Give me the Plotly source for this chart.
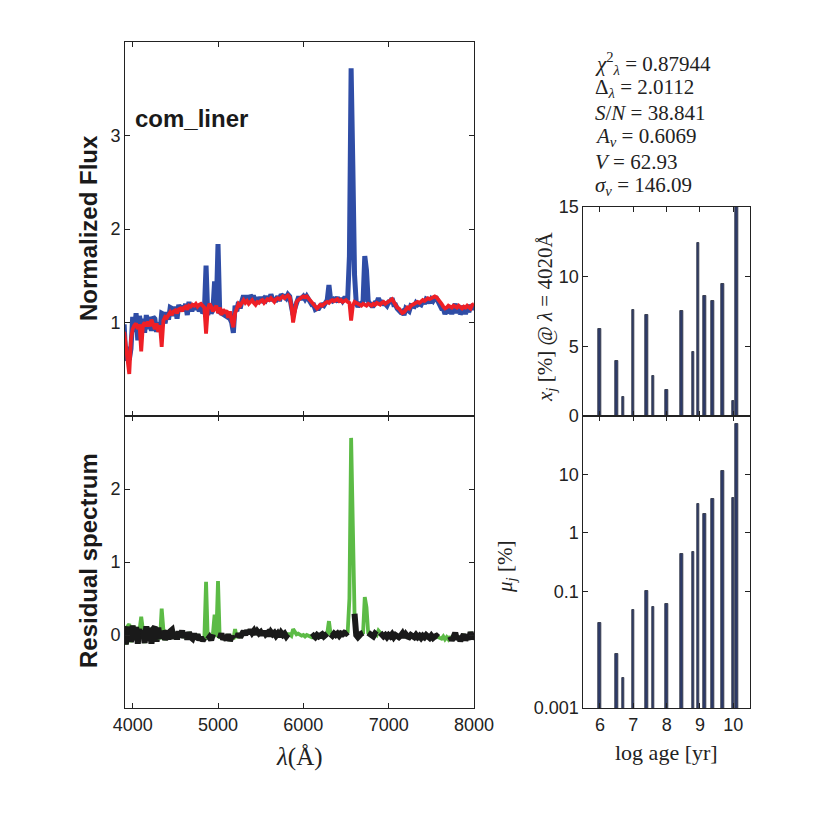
import numpy as np
import plotly.graph_objects as go

# ---------------- DATA ----------------
wave_start, wave_step, wave_end = 3900, 20, 8000
wave = np.arange(wave_start, wave_end + 1, wave_step)  # 3900..8000 Angstrom

# synthetic (model) spectrum, red
model_flux = [
    0.90, 0.72, 0.62, 0.45, 0.82, 0.93, 0.97, 0.99, 0.93, 0.98,   # 3900-4080
    0.69, 0.97, 1.00, 0.96, 1.01, 0.96, 1.03, 0.98, 0.93, 0.99,   # 4100-4280
    0.90, 0.97, 0.74, 1.02, 1.06, 1.05, 1.09, 1.11, 1.08, 1.12,   # 4300-4480
    1.13, 1.10, 1.14, 1.15, 1.12, 1.16, 1.17, 1.14, 1.18, 1.17,   # 4500-4680
    1.19, 1.18, 1.20, 1.17, 1.19, 1.20, 1.18, 1.16, 0.88, 1.14,   # 4700-4880
    1.20, 1.17, 1.12, 1.16, 1.18, 1.10, 1.16, 1.08, 1.14, 1.10,   # 4900-5080
    1.13, 1.05, 1.12, 1.02, 0.95, 1.10, 1.16, 1.20, 1.18, 1.22,   # 5100-5280
    1.24, 1.21, 1.23, 1.20, 1.22, 1.24, 1.21, 1.19, 1.22, 1.21,   # 5300-5480
    1.23, 1.24, 1.21, 1.23, 1.25, 1.24, 1.26, 1.24, 1.22, 1.25,   # 5500-5680
    1.26, 1.25, 1.27, 1.28, 1.26, 1.28, 1.29, 1.27, 1.18, 1.00,   # 5700-5880
    1.10, 1.22, 1.24, 1.26, 1.27, 1.28, 1.27, 1.28, 1.26, 1.24,   # 5900-6080
    1.22, 1.20, 1.17, 1.15, 1.17, 1.19, 1.18, 1.20, 1.21, 1.22,   # 6100-6280
    1.21, 1.23, 1.24, 1.23, 1.24, 1.25, 1.23, 1.24, 1.22, 1.23,   # 6300-6480
    1.24, 1.22, 1.21, 1.02, 1.18, 1.22, 1.21, 1.20, 1.19, 1.18,   # 6500-6680
    1.20, 1.19, 1.18, 1.20, 1.19, 1.18, 1.20, 1.19, 1.21, 1.20,   # 6700-6880
    1.19, 1.21, 1.22, 1.20, 1.21, 1.22, 1.24, 1.25, 1.22, 1.19,   # 6900-7080
    1.16, 1.15, 1.12, 1.10, 1.11, 1.14, 1.16, 1.15, 1.18, 1.19,   # 7100-7280
    1.20, 1.21, 1.22, 1.21, 1.23, 1.24, 1.23, 1.25, 1.26, 1.25,   # 7300-7480
    1.26, 1.27, 1.28, 1.27, 1.25, 1.22, 1.20, 1.17, 1.15, 1.16,   # 7500-7680
    1.18, 1.17, 1.16, 1.18, 1.17, 1.16, 1.18, 1.17, 1.15, 1.17,   # 7700-7880
    1.16, 1.18, 1.17, 1.15, 1.19, 1.20,                           # 7900-8000
]

# residual spectrum (observed - model)
residual = [
    0.08, -0.13, 0.12, 0.15, -0.10, 0.13, -0.07, 0.11, -0.12, 0.09,    # 3900-4080
    0.25, 0.07, -0.11, 0.12, -0.08, 0.10, -0.12, 0.08, 0.11, -0.09,    # 4100-4280
    0.10, -0.06, 0.36, 0.07, -0.07, 0.06, -0.06, 0.05, 0.07, -0.05,    # 4300-4480
    0.04, -0.06, 0.05, -0.03, 0.06, -0.04, 0.03, -0.06, 0.04, -0.03,   # 4500-4680
    -0.05, 0.02, -0.06, 0.01, -0.07, -0.03, -0.08, -0.04, 0.73, -0.06, # 4700-4880
    -0.03, -0.07, 0.01, 0.28, -0.03, 0.74, -0.05, 0.02, -0.06, -0.02,  # 4900-5080
    -0.07, 0.01, -0.08, -0.02, -0.06, 0.08, -0.04, 0.02, -0.03, 0.01,  # 5100-5280
    0.05, 0.00, 0.06, 0.02, 0.07, 0.03, 0.06, 0.01, 0.05, 0.02,        # 5300-5480
    0.04, 0.00, 0.05, 0.01, 0.03, -0.01, 0.04, 0.01, 0.03, -0.01,      # 5500-5680
    0.02, -0.02, 0.03, 0.00, 0.02, -0.02, 0.01, 0.01, -0.01, 0.08,     # 5700-5880
    0.05, 0.01, 0.02, 0.00, -0.01, 0.00, -0.02, 0.00, -0.01, -0.02,    # 5900-6080
    -0.03, -0.01, -0.03, 0.00, -0.02, -0.01, 0.01, -0.02, 0.00, 0.02,  # 6100-6280
    0.19, 0.01, -0.01, 0.02, 0.00, 0.02, -0.01, 0.02, 0.01, 0.03,      # 6300-6480
    0.02, 0.04, 0.50, 2.70, 1.50, 0.29, 0.00, -0.03, 0.01, 0.02,       # 6500-6680
    0.03, 0.52, 0.38, 0.03, 0.01, 0.00, -0.02, 0.02, 0.00, 0.06,       # 6700-6880
    0.03, 0.01, -0.02, 0.00, -0.03, 0.00, -0.02, 0.01, -0.03, 0.00,    # 6900-7080
    -0.01, -0.03, -0.01, 0.02, -0.03, 0.01, -0.02, -0.03, 0.00, -0.02, # 7100-7280
    -0.03, 0.00, -0.03, -0.01, -0.04, -0.01, -0.03, 0.00, -0.02, -0.04,# 7300-7480
    -0.01, -0.04, -0.02, -0.01, -0.03, -0.04, -0.05, -0.02, -0.06, -0.03,  # 7500-7680
    -0.06, -0.02, -0.07, -0.03, 0.03, -0.06, -0.02, -0.08, -0.03, 0.01,    # 7700-7880
    -0.07, -0.02, -0.06, 0.04, -0.05, -0.02,                               # 7900-8000
]

# masked wavelength windows (shown in green only)
mask_windows = [(3950, 3970), (4090, 4110), (4330, 4350), (4850, 4870),
                (4950, 4970), (4990, 5010), (5190, 5210), (5830, 6090),
                (6290, 6310), (6530, 6590), (6710, 6750), (6870, 6890),
                (7590, 7710)]

# stellar population vectors
log_age = [6.0, 6.5, 6.7, 7.0, 7.4, 7.6, 8.0, 8.45, 8.8, 8.95, 9.15, 9.38, 9.68, 10.0, 10.1]
light_frac = [6.25, 3.95, 1.34, 7.6, 7.25, 2.9, 1.9, 7.56, 4.57, 12.4, 8.6, 8.25, 9.5, 1.05, 17.0]
mass_frac = [0.028, 0.0085, 0.0033, 0.047, 0.10, 0.054, 0.061, 0.44, 0.47, 3.06, 2.14, 3.83, 11.6, 3.9, 73.0]

galaxy_name = "com_liner"
stats_lines = [
    "<i>χ</i><sup>2</sup><sub><i>λ</i></sub> = 0.87944",
    "Δ<sub><i>λ</i></sub> = 2.0112",
    "<i>S</i>/<i>N</i> = 38.841",
    "<i>A<sub>v</sub></i> = 0.6069",
    "<i>V</i> = 62.93",
    "<i>σ<sub>v</sub></i> = 146.09",
]

# ---------------- DERIVED ----------------
model_arr = np.array(model_flux)
res_arr = np.array(residual)
obs_flux = model_arr + res_arr
black_res = res_arr.copy()
for lo, hi in mask_windows:
    black_res[(wave >= lo) & (wave <= hi)] = np.nan

# ---------------- FIGURE ----------------
W = H = 834
def px_x(p): return p / W
def px_y(p): return 1 - p / H

L_DOM = [px_x(125), px_x(474)]
R_DOM = [px_x(583.3), px_x(750)]
TOP_L = [px_y(416), px_y(42)]
TOP_R = [px_y(416), px_y(207)]
BOT = [px_y(708), px_y(416)]

fig = go.Figure()
fig.add_trace(go.Scatter(x=wave, y=obs_flux, mode="lines",
                         line=dict(color="#2f4da6", width=5),
                         xaxis="x", yaxis="y"))
fig.add_trace(go.Scatter(x=wave, y=model_arr, mode="lines",
                         line=dict(color="#ee1f26", width=3.8),
                         xaxis="x", yaxis="y"))
fig.add_trace(go.Scatter(x=wave, y=res_arr, mode="lines",
                         line=dict(color="#5cbb46", width=3.8),
                         xaxis="x2", yaxis="y2"))
fig.add_trace(go.Scatter(x=wave, y=black_res, mode="lines", connectgaps=False,
                         line=dict(color="#1a1a1a", width=6),
                         xaxis="x2", yaxis="y2"))

bar_style = dict(marker=dict(color="#2c3a6a", line=dict(color="#3a3f50", width=1)),
                 width=0.08)
fig.add_trace(go.Bar(x=log_age, y=light_frac, xaxis="x3", yaxis="y3", **bar_style))
fig.add_trace(go.Bar(x=log_age, y=mass_frac, xaxis="x4", yaxis="y4", **bar_style))

tick_font = dict(family="Liberation Sans, Arial, sans-serif", size=18, color="#222222")
common = dict(showline=True, linecolor="#222222", linewidth=1, mirror="ticks",
              ticks="inside", ticklen=5, tickcolor="#222222", showgrid=False,
              zeroline=False, tickfont=tick_font, automargin=False)

fig.update_layout(
    template="none",
    width=W, height=H, margin=dict(l=0, r=0, t=0, b=0, pad=0),
    paper_bgcolor="white", plot_bgcolor="white", showlegend=False, bargap=0,
    xaxis=dict(domain=L_DOM, anchor="y", range=[3910, 8000],
               tickvals=[4000, 5000, 6000, 7000, 8000], showticklabels=False, **common),
    yaxis=dict(domain=TOP_L, anchor="x", range=[0, 4], tickvals=[1, 2, 3], **common),
    xaxis2=dict(domain=L_DOM, anchor="y2", range=[3910, 8000],
                tickvals=[4000, 5000, 6000, 7000, 8000], **common),
    yaxis2=dict(domain=BOT, anchor="x2", range=[-1, 3], tickvals=[0, 1, 2], **common),
    xaxis3=dict(domain=R_DOM, anchor="y3", range=[5.5, 10.5],
                tickvals=[6, 7, 8, 9, 10], showticklabels=False, **common),
    yaxis3=dict(domain=TOP_R, anchor="x3", range=[0, 15], tickvals=[0, 5, 10, 15], **common),
    xaxis4=dict(domain=R_DOM, anchor="y4", range=[5.5, 10.5],
                tickvals=[6, 7, 8, 9, 10], **common),
    yaxis4=dict(domain=BOT, anchor="x4", type="log", range=[-3, 2],
                tickvals=[0.001, 0.1, 1, 10], ticktext=["0.001", "0.1", "1", "10"], **common),
)

bold = dict(family="Liberation Sans, Arial, sans-serif", size=24, color="#1a1a1a")
serif = "Liberation Serif, Times New Roman, serif"
ann = [
    dict(text="<b>Normalized Flux</b>", x=px_x(88), y=px_y(228), textangle=-90, font=bold),
    dict(text="<b>Residual spectrum</b>", x=px_x(88), y=px_y(561), textangle=-90, font=bold),
    dict(text="<b>" + galaxy_name + "</b>", x=px_x(133), y=px_y(118), xanchor="left", font=bold),
    dict(text="<i>λ</i>(Å)", x=px_x(299), y=px_y(757),
         font=dict(family=serif, size=25, color="#222222")),
    dict(text="log age [yr]", x=px_x(666), y=px_y(752),
         font=dict(family=serif, size=22, color="#222222")),
    dict(text="<i>x<sub>j</sub></i> [%] @ <i>λ</i> = 4020Å", x=px_x(546), y=px_y(317),
         textangle=-90, font=dict(family=serif, size=21, color="#222222")),
    dict(text="<i>μ<sub>j</sub></i> [%]", x=px_x(506), y=px_y(567),
         textangle=-90, font=dict(family=serif, size=21, color="#222222")),
]
for i, line in enumerate(stats_lines):
    ann.append(dict(text=line, x=px_x(593), y=px_y(64 + 24.4 * i), xanchor="left",
                    font=dict(family=serif, size=21, color="#222222")))
for a in ann:
    a.setdefault("xanchor", "center")
    a.setdefault("yanchor", "middle")
    a.update(xref="paper", yref="paper", showarrow=False)
fig.update_layout(annotations=ann)

fig.write_html("out.html")
